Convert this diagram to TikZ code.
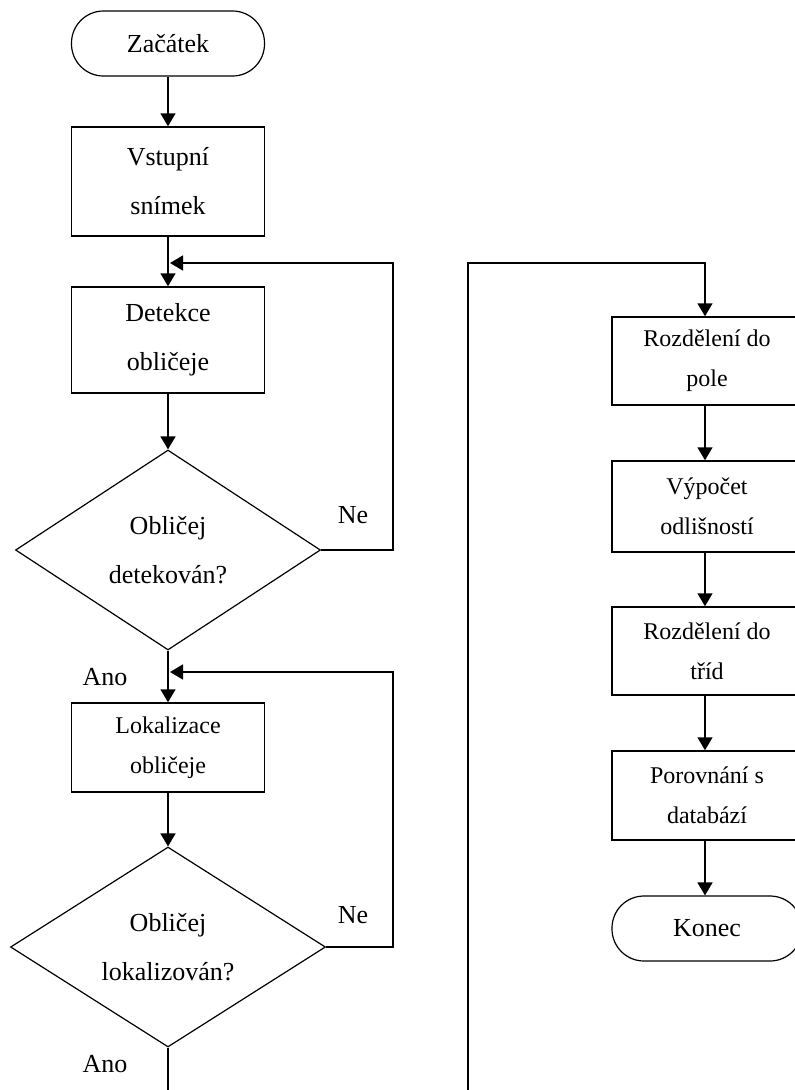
\documentclass[tikz,border=0pt]{standalone}
\usepackage{fontspec}
\setmainfont{Liberation Serif}
\usetikzlibrary{arrows.meta,shapes.geometric}
\begin{document}
\begin{tikzpicture}[x=1pt,y=-1pt,
  big/.style={font=\fontsize{26}{49}\selectfont},
  small/.style={font=\fontsize{24}{40}\selectfont},
  procbox/.style={draw,line width=1.5pt,rectangle,inner sep=0pt,align=center},
  termbox/.style={draw,line width=1.2pt,rectangle,rounded corners=32pt,inner sep=0pt,align=center},
  decbox/.style={draw,line width=1.2pt,diamond,aspect=1.5,inner sep=0pt,align=center},
  arr/.style={line width=1.6pt,-{Triangle[width=15pt,length=13pt]}},
  ln/.style={line width=1.6pt},
  lbl/.style={big,anchor=base,inner sep=0pt}]
\useasboundingbox (0,0) rectangle (795,1090);
\clip (0,0) rectangle (795,1090);
% left column
\node[termbox,big,minimum width=193pt,minimum height=65pt] (start) at (168,43.5) {Začátek};
\node[procbox,big,minimum width=193pt,minimum height=109pt] (vst) at (168,181.5) {Vstupní\\snímek};
\node[procbox,big,minimum width=193pt,minimum height=106pt] (det) at (168,340) {Detekce\\obličeje};
\node[decbox,big,minimum width=305pt,minimum height=200pt] (d1) at (168,550) {Obličej\\detekován?};
\node[procbox,small,minimum width=193pt,minimum height=89pt] (lok) at (168,747.5) {Lokalizace\\obličeje};
\node[decbox,big,minimum width=315pt,minimum height=200pt] (d2) at (168,947) {Obličej\\lokalizován?};
% right column (boxes run past the right edge)
\node[procbox,small,minimum width=190pt,minimum height=88pt] (r1) at (707,361) {Rozdělení do\\pole};
\node[procbox,small,minimum width=190pt,minimum height=91pt] (r2) at (707,506.5) {Výpočet\\odlišností};
\node[procbox,small,minimum width=190pt,minimum height=88pt] (r3) at (707,651) {Rozdělení do\\tříd};
\node[procbox,small,minimum width=190pt,minimum height=89pt] (r4) at (707,795.5) {Porovnání s\\databází};
\node[termbox,big,minimum width=190pt,minimum height=65pt] (end) at (707,928.5) {Konec};
% labels
\node[lbl] (ne1) at (353,523) {Ne};
\node[lbl] (ne2) at (353,923) {Ne};
\node[lbl] (ano1) at (105,685) {Ano};
\node[lbl] (ano2) at (105,1072) {Ano};
% coordinates
\coordinate (j1) at (170,263);
\coordinate (c1) at (393,263);
\coordinate (j2) at (170,672);
\coordinate (c2) at (393,672);
\coordinate (b1) at (168,1090);
\coordinate (b2) at (468,1090);
\coordinate (c3) at (468,263);
\coordinate (c4) at (705,263);
% connectors
\draw[arr] (start) -- (vst);
\draw[arr] (vst) -- (det);
\draw[arr] (det) -- (d1);
\draw[arr] (d1) -- (lok);
\draw[arr] (lok) -- (d2);
\draw[ln] (d2.south) -- (b1);
\draw[arr] (d1.east) -| (c1) -- (j1);
\draw[arr] (d2.east) -| (c2) -- (j2);
\draw[arr] (b2) -- (c3) -- (c4) -- (c4 |- r1.north);
\draw[arr] (r1.south -| c4) -- (r2.north -| c4);
\draw[arr] (r2.south -| c4) -- (r3.north -| c4);
\draw[arr] (r3.south -| c4) -- (r4.north -| c4);
\draw[arr] (r4.south -| c4) -- (end.north -| c4);
\end{tikzpicture}
\end{document}
